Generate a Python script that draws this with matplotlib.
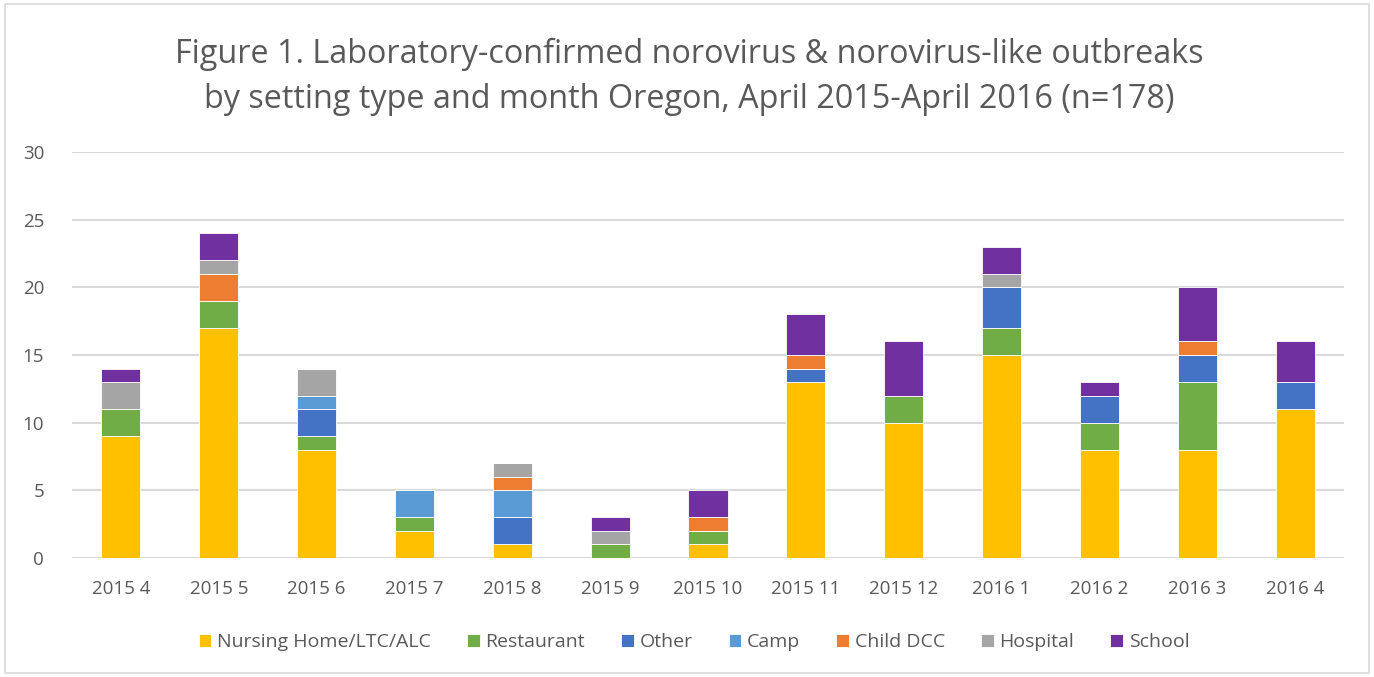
import matplotlib
matplotlib.use("Agg")
import matplotlib.pyplot as plt
from matplotlib.patches import Rectangle
import numpy as np

categories = ["2015 4", "2015 5", "2015 6", "2015 7", "2015 8", "2015 9", "2015 10",
              "2015 11", "2015 12", "2016 1", "2016 2", "2016 3", "2016 4"]
nursing    = [9, 17, 8, 2, 1, 0, 1, 13, 10, 15, 8, 8, 11]
restaurant = [2, 2, 1, 1, 0, 1, 1, 0, 2, 2, 2, 5, 0]
other      = [0, 0, 2, 0, 2, 0, 0, 1, 0, 3, 2, 2, 2]
camp       = [0, 0, 1, 2, 2, 0, 0, 0, 0, 0, 0, 0, 0]
child_dcc  = [0, 2, 0, 0, 1, 0, 1, 1, 0, 0, 0, 1, 0]
hospital   = [2, 1, 2, 0, 1, 1, 0, 0, 0, 1, 0, 0, 0]
school     = [1, 2, 0, 0, 0, 1, 2, 3, 4, 2, 1, 4, 3]

series_names = ["Nursing Home/LTC/ALC", "Restaurant", "Other", "Camp",
                "Child DCC", "Hospital", "School"]
series_vals = [nursing, restaurant, other, camp, child_dcc, hospital, school]
colors = ["#FFC000", "#70AD47", "#4472C4", "#5B9BD5", "#ED7D31", "#A5A5A5", "#7030A0"]

plt.rcParams['font.family'] = ['Open Sans', 'DejaVu Sans']
txt = "#595959"

fig = plt.figure(figsize=(13.74, 6.77), dpi=100)
fig.patches.append(Rectangle((0.004, 0.006), 0.992, 0.988, transform=fig.transFigure,
                             fill=False, edgecolor="#D9D9D9", linewidth=1.2))
ax = fig.add_axes([72/1374, 1-558/677, (1344-72)/1374, (558-152)/677])

x = np.arange(len(categories))
bottom = np.zeros(len(categories))
for name, vals, c in zip(series_names, series_vals, colors):
    v = np.array(vals, dtype=float)
    ax.bar(x, v, 0.4, bottom=bottom, color=c, label=name, edgecolor="white",
           linewidth=0.6, zorder=3)
    bottom += v

ax.set_xlim(-0.5, len(categories) - 0.5)
ax.set_ylim(0, 30)
ax.set_yticks([0, 5, 10, 15, 20, 25, 30])
ax.set_xticks(x)
ax.set_xticklabels(categories)
ax.grid(axis='y', color="#D9D9D9", linewidth=1.5, zorder=0)
ax.set_axisbelow(True)
for s in ax.spines.values():
    s.set_visible(False)
ax.tick_params(axis='both', length=0, labelsize=13.5, colors=txt)
ax.tick_params(axis='y', pad=20)
ax.tick_params(axis='x', pad=16)

fig.text(0.502, 1-54/677, "Figure 1. Laboratory-confirmed norovirus & norovirus-like outbreaks",
         ha='center', va='center', fontsize=23.3, color=txt)
fig.text(0.502, 1-100/677, "by setting type and month Oregon, April 2015-April 2016 (n=178)",
         ha='center', va='center', fontsize=23.3, color=txt)

handles, labels = ax.get_legend_handles_labels()
leg = fig.legend(handles, labels, loc='center', bbox_to_anchor=(0.505, 1-642/677),
                 ncol=7, frameon=False, fontsize=14, handlelength=0.65, handleheight=0.65,
                 handletextpad=0.3, columnspacing=1.85, labelcolor=txt)

fig.savefig("out.png", dpi=100)
